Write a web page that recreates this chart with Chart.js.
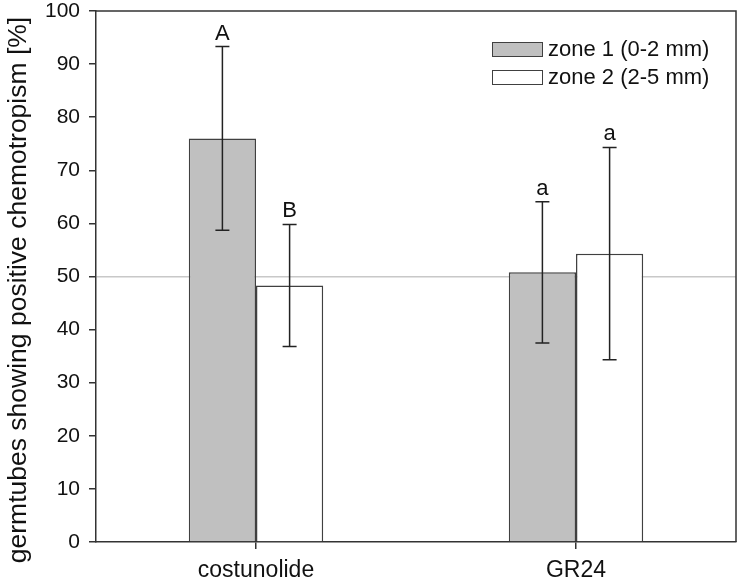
<!DOCTYPE html>
<html>
<head>
<meta charset="utf-8">
<script src="https://cdn.jsdelivr.net/npm/chart.js@4"></script>
<style>
    html, body { margin: 0; padding: 0; background: #fff; }
    #wrap { width: 739px; height: 586px; }
</style>
</head>
<body>
<div id="wrap"><canvas id="chart" width="739" height="586"></canvas></div>
<script>
const categories = ['costunolide', 'GR24'];
const zone1Values = [76.0, 50.8];
const zone2Values = [48.3, 54.3];
const zone1Errors = [17.3, 13.3];
const zone2Errors = [11.5, 20.0];
const zone1Letters = ['A', 'a'];
const zone2Letters = ['B', 'a'];
const yTicks = [0, 10, 20, 30, 40, 50, 60, 70, 80, 90, 100];
const referenceLine = 50;
const yTitle = 'germtubes showing positive chemotropism [%]';

const FONT = 'Liberation Sans, Arial, sans-serif';
const AXIS_COLOR = '#333';

// error bars and letters, drawn with the chart's own scales
const errorBarPlugin = {
    id: 'errorBars',
    afterDatasetsDraw(chart) {
        const ctx = chart.ctx;
        const y = chart.scales.y;
        ctx.save();
        chart.data.datasets.forEach((ds, i) => {
            const meta = chart.getDatasetMeta(i);
            meta.data.forEach((bar, j) => {
                const v = ds.data[j];
                const err = ds.errors[j];
                const top = y.getPixelForValue(v + err);
                const bottom = y.getPixelForValue(v - err);
                ctx.strokeStyle = '#222';
                ctx.lineWidth = 1.5;
                ctx.beginPath();
                ctx.moveTo(bar.x, top);
                ctx.lineTo(bar.x, bottom);
                ctx.moveTo(bar.x - 7, top);
                ctx.lineTo(bar.x + 7, top);
                ctx.moveTo(bar.x - 7, bottom);
                ctx.lineTo(bar.x + 7, bottom);
                ctx.stroke();

                ctx.fillStyle = '#111';
                ctx.font = '22px ' + FONT;
                ctx.textAlign = 'center';
                ctx.textBaseline = 'alphabetic';
                ctx.fillText(ds.letters[j], bar.x, top - 7);
            });
        });
        ctx.restore();
    }
};

// top and right frame lines, the inside legend and the y title
const framePlugin = {
    id: 'frame',
    afterDraw(chart) {
        const ctx = chart.ctx;
        const a = chart.chartArea;
        ctx.save();
        ctx.strokeStyle = AXIS_COLOR;
        ctx.lineWidth = 1.5;
        ctx.beginPath();
        ctx.moveTo(a.left, a.top);
        ctx.lineTo(a.right, a.top);
        ctx.lineTo(a.right, a.bottom);
        ctx.stroke();

        const x0 = 492;
        const rows = [42, 70];
        chart.data.datasets.forEach((ds, i) => {
            const yy = rows[i];
            ctx.fillStyle = ds.backgroundColor;
            ctx.fillRect(x0, yy, 50, 14);
            ctx.strokeStyle = ds.borderColor;
            ctx.lineWidth = 1;
            ctx.strokeRect(x0 + 0.5, yy + 0.5, 50, 14);
            ctx.fillStyle = '#111';
            ctx.font = '22px ' + FONT;
            ctx.textAlign = 'left';
            ctx.textBaseline = 'middle';
            ctx.fillText(ds.label, x0 + 56, yy + 8);
        });

        ctx.translate(19, 290);
        ctx.rotate(-Math.PI / 2);
        ctx.fillStyle = '#111';
        ctx.font = '26.5px ' + FONT;
        ctx.textAlign = 'center';
        ctx.textBaseline = 'middle';
        ctx.fillText(yTitle, 0, 0);
        ctx.restore();
    }
};

new Chart(document.getElementById('chart'), {
    type: 'bar',
    data: {
        labels: categories,
        datasets: [
            {
                label: 'zone 1 (0-2 mm)',
                data: zone1Values,
                errors: zone1Errors,
                letters: zone1Letters,
                backgroundColor: '#c0c0c0',
                borderColor: '#404040',
                borderWidth: 1.5
            },
            {
                label: 'zone 2 (2-5 mm)',
                data: zone2Values,
                errors: zone2Errors,
                letters: zone2Letters,
                backgroundColor: '#ffffff',
                borderColor: '#404040',
                borderWidth: 1.5
            }
        ]
    },
    options: {
        responsive: false,
        animation: false,
        datasets: {
            bar: { categoryPercentage: 0.42, barPercentage: 1.0 }
        },
        layout: { padding: { top: 11, right: 3, left: 0, bottom: 0 } },
        plugins: {
            legend: { display: false },
            tooltip: { enabled: false }
        },
        scales: {
            x: {
                afterFit: scale => { scale.height = 44; },
                grid: {
                    offset: false,
                    drawOnChartArea: false,
                    tickLength: 7,
                    tickColor: AXIS_COLOR,
                    lineWidth: 1.5
                },
                border: { color: AXIS_COLOR, width: 1.5 },
                ticks: {
                    color: '#111',
                    padding: 8,
                    font: { family: FONT, size: 23 }
                }
            },
            y: {
                min: 0,
                max: 100,
                afterFit: scale => {
                    scale.width = 96;
                    scale.paddingTop = 0;
                    scale.paddingBottom = 0;
                },
                afterBuildTicks: scale => {
                    scale.ticks = yTicks.map(v => ({ value: v }));
                },
                grid: {
                    color: c => c.tick && c.tick.value === referenceLine ? '#c8c8c8' : 'rgba(0,0,0,0)',
                    lineWidth: 1.5,
                    tickLength: 7,
                    tickColor: AXIS_COLOR
                },
                border: { color: AXIS_COLOR, width: 1.5 },
                ticks: {
                    color: '#111',
                    padding: 9,
                    font: { family: FONT, size: 21, lineHeight: 1 }
                }
            }
        }
    },
    plugins: [errorBarPlugin, framePlugin]
});
</script>
</body>
</html>
